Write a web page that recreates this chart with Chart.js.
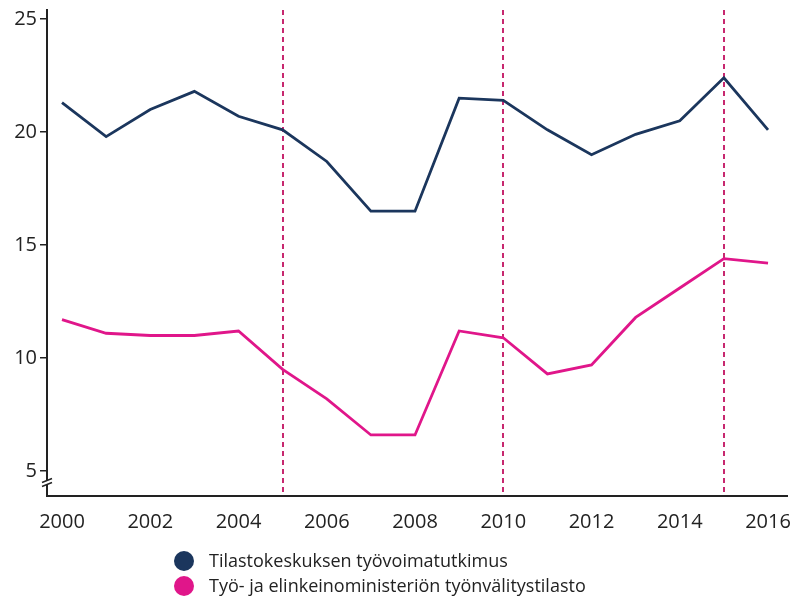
<!DOCTYPE html>
<html>
<head>
<meta charset="utf-8">
<script src="https://cdn.jsdelivr.net/npm/chart.js@4"></script>
<style>
	body { margin: 0; background: #fff; font-family: "Open Sans", sans-serif; }
	#wrap { position: relative; width: 793px; height: 600px; }
	#legend { position: absolute; left: 174px; top: 548px; color: #222; font-size: 18px; line-height: 25px; }
	#legend div { display: flex; align-items: center; }
	#legend span.dot { display: inline-block; width: 20px; height: 20px; border-radius: 50%; margin-right: 15px; }
</style>
</head>
<body>
<div id="wrap">
	<canvas id="chart" width="793" height="600"></canvas>
	<div id="legend"></div>
</div>
<script>
const years = [2000, 2001, 2002, 2003, 2004, 2005, 2006, 2007, 2008, 2009, 2010, 2011, 2012, 2013, 2014, 2015, 2016]
const surveyValues = [21.3, 19.8, 21.0, 21.8, 20.7, 20.1, 18.7, 16.5, 16.5, 21.5, 21.4, 20.1, 19.0, 19.9, 20.5, 22.4, 20.1]
const registryValues = [11.7, 11.1, 11.0, 11.0, 11.2, 9.5, 8.2, 6.6, 6.6, 11.2, 10.9, 9.3, 9.7, 11.8, 13.1, 14.4, 14.2]
const seriesNames = ["Tilastokeskuksen työvoimatutkimus", "Työ- ja elinkeinoministeriön työnvälitystilasto"]
const seriesColors = ["#1b365d", "#e0168a"]
const markerYears = [2005, 2010, 2015]
const xTicks = [2000, 2002, 2004, 2006, 2008, 2010, 2012, 2014, 2016]
const yTicks = [5, 10, 15, 20, 25]

const textColor = "#222"

// dashed vertical lines at the marker years
const markerLines = {
	id: "markerLines",
	beforeDatasetsDraw(chart) {
		const ctx = chart.ctx
		const x = chart.scales.x
		const area = chart.chartArea
		ctx.save()
		ctx.strokeStyle = "#c7286f"
		ctx.lineWidth = 2
		ctx.setLineDash([5, 4])
		for (const yr of markerYears) {
			const px = Math.round(x.getPixelForValue(yr))
			ctx.beginPath()
			ctx.moveTo(px, area.top)
			ctx.lineTo(px, area.bottom - 3)
			ctx.stroke()
		}
		ctx.restore()
	},
}

// axis break mark near the bottom of the y axis
const axisBreak = {
	id: "axisBreak",
	afterDraw(chart) {
		const ctx = chart.ctx
		const y = chart.scales.y
		const px = y.right
		const py = y.getPixelForValue(4.5)
		ctx.save()
		ctx.fillStyle = "#fff"
		ctx.fillRect(px - 3, py - 2, 6, 4)
		ctx.strokeStyle = textColor
		ctx.lineWidth = 1.5
		for (const off of [-2, 2]) {
			ctx.beginPath()
			ctx.moveTo(px - 5, py + off + 2)
			ctx.lineTo(px + 5, py + off - 2)
			ctx.stroke()
		}
		ctx.restore()
	},
}

const datasets = [surveyValues, registryValues].map((vals, i) => ({
	label: seriesNames[i],
	data: years.map((yr, j) => ({ x: yr, y: vals[j] })),
	borderColor: seriesColors[i],
	backgroundColor: seriesColors[i],
	borderWidth: 2.8,
	pointRadius: 0,
	tension: 0,
}))

new Chart(document.getElementById("chart"), {
	type: "line",
	data: { datasets },
	options: {
		responsive: false,
		animation: false,
		layout: { padding: { top: 10, right: 6, bottom: 64, left: 0 } },
		plugins: { legend: { display: false }, tooltip: { enabled: false } },
		scales: {
			x: {
				type: "linear",
				min: 1999.66,
				max: 2016.43,
				afterBuildTicks: (s) => { s.ticks = xTicks.map((v) => ({ value: v })) },
				afterFit: (s) => { s.height = 40; s.paddingLeft = 0; s.paddingRight = 0 },
				grid: { drawOnChartArea: false, drawTicks: false },
				border: { color: textColor, width: 2 },
				ticks: { color: textColor, padding: 14, maxRotation: 0, font: { family: "Open Sans", size: 20 }, callback: (v) => String(v) },
			},
			y: {
				min: 3.9,
				max: 25.4,
				afterBuildTicks: (s) => { s.ticks = yTicks.map((v) => ({ value: v })) },
				afterFit: (s) => { s.width = 47; s.paddingTop = 0; s.paddingBottom = 0 },
				grid: { drawOnChartArea: false, tickLength: 7, color: textColor, lineWidth: 1.5 },
				border: { color: textColor, width: 2 },
				ticks: { color: textColor, padding: 3, font: { family: "Open Sans", size: 20 } },
			},
		},
	},
	plugins: [markerLines, axisBreak],
})

const legendEl = document.getElementById("legend")
for (let i = 0; i < seriesNames.length; i++) {
	const row = document.createElement("div")
	row.innerHTML = '<span class="dot" style="background:' + seriesColors[i] + '"></span>' + seriesNames[i]
	legendEl.appendChild(row)
}
</script>
</body>
</html>
